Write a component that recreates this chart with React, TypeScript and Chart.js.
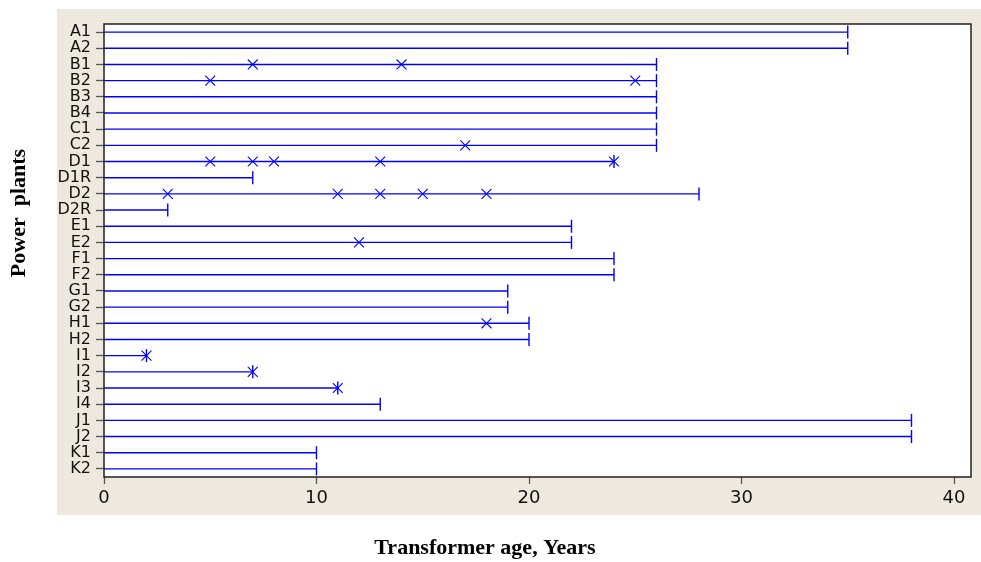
import React, { useEffect, useRef } from "react";
import { Chart, registerables } from "chart.js";

Chart.register(...registerables);

// Transformer units per power plant
const plants = [
  "A1", "A2", "B1", "B2", "B3", "B4", "C1", "C2", "D1", "D1R", "D2", "D2R",
  "E1", "E2", "F1", "F2", "G1", "G2", "H1", "H2", "I1", "I2", "I3", "I4",
  "J1", "J2", "K1", "K2",
];

// Observed age of each unit (years)
const ages = [
  35, 35, 26, 26, 26, 26, 26, 26, 24, 7, 28, 3,
  22, 22, 24, 24, 19, 19, 20, 20, 2, 7, 11, 13,
  38, 38, 10, 10,
];

// Ages at which failures were recorded (before the end of observation)
const failureAges: number[][] = [
  [], [], [7, 14], [5, 25], [], [], [], [17], [5, 7, 8, 13], [], [3, 11, 13, 15, 18], [],
  [], [12], [], [], [], [], [18], [], [], [], [], [],
  [], [], [], [],
];

// Whether the observation ended with a failure (true) or was censored (false)
const endsInFailure = [
  false, false, false, false, false, false, false, false, true, false, false, false,
  false, false, false, false, false, false, false, false, true, true, true, false,
  false, false, false, false,
];

const xTicks = [0, 10, 20, 30, 40];

const BLUE = "#0000ff";
const PANEL = "#ede9df";

const framePlugin = {
  id: "frame",
  beforeDraw(chart: any) {
    const { ctx, chartArea, width, height } = chart;
    ctx.save();
    ctx.fillStyle = "#ffffff";
    ctx.fillRect(0, 0, width, height);
    ctx.fillStyle = PANEL;
    ctx.fillRect(57, 9, width - 57, 506);
    ctx.fillStyle = "#ffffff";
    ctx.fillRect(chartArea.left, chartArea.top, chartArea.right - chartArea.left, chartArea.bottom - chartArea.top);
    ctx.restore();
  },
  afterDraw(chart: any) {
    const { ctx, chartArea } = chart;
    ctx.save();
    ctx.strokeStyle = "#222222";
    ctx.lineWidth = 1.5;
    ctx.strokeRect(chartArea.left, chartArea.top, chartArea.right - chartArea.left, chartArea.bottom - chartArea.top);

    ctx.fillStyle = "#000000";
    ctx.font = "bold 22px 'Liberation Serif', 'Times New Roman', serif";
    ctx.textAlign = "center";
    ctx.textBaseline = "middle";
    ctx.fillText("Transformer age, Years", 485, 548);

    ctx.translate(19, 213);
    ctx.rotate(-Math.PI / 2);
    ctx.fillText("Power  plants", 0, 0);
    ctx.restore();
  },
};

export default function App() {
  const canvasRef = useRef<HTMLCanvasElement>(null);

  useEffect(() => {
    document.body.style.margin = "0";
    const canvas = canvasRef.current;
    if (!canvas) return;

    const lineSets = plants.map((name, i) => ({
      label: name,
      data: [
        { x: 0, y: i },
        { x: ages[i], y: i },
      ],
      showLine: true,
      borderColor: BLUE,
      borderWidth: 1.4,
      pointRadius: 0,
      order: 3,
    }));

    const failurePoints: { x: number; y: number }[] = [];
    plants.forEach((_, i) => {
      failureAges[i].forEach((a) => failurePoints.push({ x: a, y: i }));
      if (endsInFailure[i]) failurePoints.push({ x: ages[i], y: i });
    });

    const censorPoints = plants.map((_, i) => ({ x: ages[i], y: i }));

    const chart = new Chart(canvas, {
      type: "scatter",
      data: {
        datasets: [
          ...lineSets,
          {
            label: "Failure",
            data: failurePoints,
            pointStyle: "crossRot",
            pointRadius: 7,
            borderColor: BLUE,
            backgroundColor: BLUE,
            pointBorderWidth: 1.1,
            order: 1,
          },
          {
            label: "End of observation",
            data: censorPoints,
            pointStyle: "line",
            rotation: 90,
            pointRadius: 6.5,
            borderColor: BLUE,
            backgroundColor: BLUE,
            pointBorderWidth: 1.4,
            order: 2,
          },
        ] as any,
      },
      options: {
        responsive: false,
        animation: false,
        events: [],
        layout: { padding: { top: 24, right: 10, left: 0, bottom: 0 } },
        plugins: {
          legend: { display: false },
          tooltip: { enabled: false },
        },
        scales: {
          x: {
            type: "linear",
            min: 0,
            max: 40.8,
            afterBuildTicks: (scale: any) => {
              scale.ticks = xTicks.map((value) => ({ value }));
            },
            afterFit: (scale: any) => {
              scale.height = 85;
            },
            grid: {
              drawOnChartArea: false,
              drawTicks: true,
              tickLength: 7,
              tickColor: "#555555",
              tickWidth: 1.3,
            },
            border: { display: false },
            ticks: {
              color: "#111111",
              padding: 4,
              font: { family: "'DejaVu Sans', sans-serif", size: 18 },
            },
          },
          y: {
            type: "linear",
            min: -0.5,
            max: 27.5,
            reverse: true,
            afterBuildTicks: (scale: any) => {
              scale.ticks = plants.map((_, i) => ({ value: i }));
            },
            afterFit: (scale: any) => {
              scale.width = 104;
            },
            grid: {
              drawOnChartArea: false,
              drawTicks: true,
              tickLength: 8,
              tickColor: "#555555",
              tickWidth: 1.3,
            },
            border: { display: false },
            ticks: {
              autoSkip: false,
              color: "#111111",
              padding: 5,
              font: { family: "'DejaVu Sans', sans-serif", size: 16 },
              callback: (v: any) => plants[Number(v)] ?? "",
            },
          },
        },
      },
      plugins: [framePlugin],
    });

    return () => chart.destroy();
  }, []);

  return <canvas ref={canvasRef} width={981} height={562} style={{ display: "block" }} />;
}
